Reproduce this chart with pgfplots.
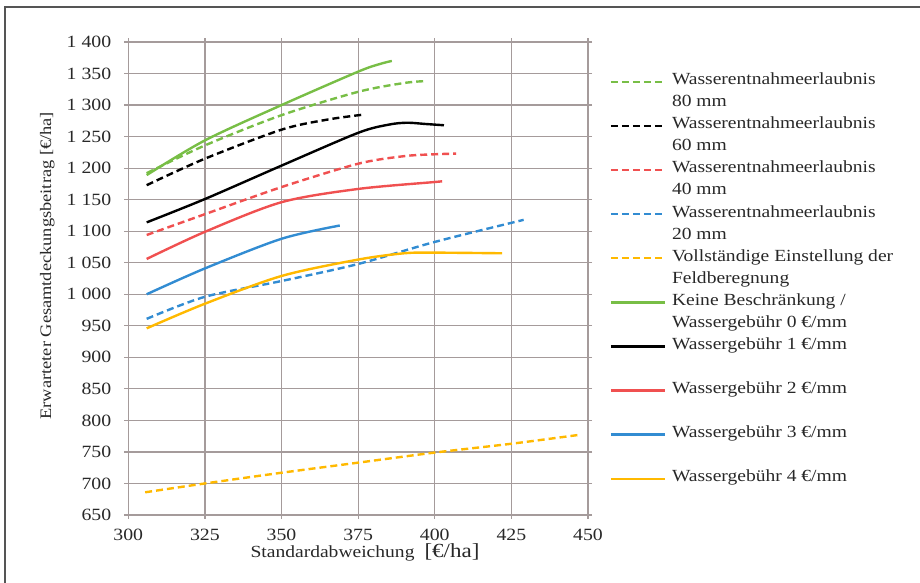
\documentclass[border=0pt]{standalone}
\usepackage{fontspec}
\setmainfont{Liberation Serif}[FakeStretch=1.15]
\usepackage{pgfplots}
\pgfplotsset{compat=1.18}
\usepackage{pgfplotstable}
\definecolor{gridc}{RGB}{165,155,155}
\definecolor{textc}{RGB}{40,40,40}
\definecolor{cgreen}{RGB}{120,190,70}
\definecolor{cred}{RGB}{240,80,80}
\definecolor{cblue}{RGB}{50,140,210}
\definecolor{corange}{RGB}{255,185,0}
\definecolor{framec}{RGB}{85,85,85}

\pgfplotstableread{
x y
306 1192
325 1236
350 1284
375 1321
390 1335
397 1338
}\gd
\pgfplotstableread{
x y
306 1173
325 1215
350 1261
365 1277
377 1285
}\bd
\pgfplotstableread{
x y
306 1094
325 1127
350 1170
375 1207
390 1219
400 1222
407 1223
}\rd
\pgfplotstableread{
x y
306 961
325 996
350 1021
375 1048
400 1083
429 1118
}\bld
\pgfplotstableread{
x y
305.5 686
325 700
350 717
375 733
400 749
425 763
447 777
}\yd
\pgfplotstableread{
x y
306 1189
325 1244
350 1300
375 1353
382 1365
386 1370
}\gs
\pgfplotstableread{
x y
306 1114
325 1151
350 1204
375 1256
385 1269
391 1272
397 1270
403 1268
}\bs
\pgfplotstableread{
x y
306 1056
325 1099
350 1146
375 1167
400 1178
402 1179
}\rs
\pgfplotstableread{
x y
306 1000
325 1041
350 1088
369 1109
}\bls
\pgfplotstableread{
x y
306 946
325 985
350 1029
375 1055
390 1065
400 1066
422 1065
}\ys

\begin{document}
\begin{tikzpicture}
\begin{axis}[
  name=ax,
  at={(0,0)}, anchor=south west,
  width=229.85pt, height=236.5pt, scale only axis,
  xmin=300, xmax=450, ymin=650, ymax=1400,
  xtick={300,325,...,450}, ytick={650,700,...,1400},
  grid=major,
  major grid style={color=gridc, line width=0.6pt},
  axis line style={gridc, line width=0.6pt},
  tick style={gridc, line width=0.6pt},
  tick align=outside, major tick length=2pt,
  /pgf/number format/assume math mode=true,
  /pgf/number format/1000 sep={\ },
  every tick label/.append style={font=\fontsize{8.6pt}{10pt}\selectfont, text=textc},
  yticklabel style={xshift=-3pt},
  xticklabel style={yshift=-1.7pt},
  xlabel={{\fontsize{8.5pt}{10pt}\selectfont Standardabweichung}\hspace{5pt}{\fontsize{10pt}{12pt}\selectfont [€/ha]}},
  xlabel style={at={(axis description cs:0.5149,-0.0909)}, anchor=base, text=textc},
  ylabel={\fontsize{8pt}{10pt}\selectfont Erwarteter Gesamtdeckungsbeitrag [€/ha]},
  ylabel style={at={(axis description cs:-0.1762,0.527)}, anchor=center, rotate=0, text=textc},
  legend image code/.code={\draw[#1] (0pt,0pt) -- (27pt,0pt);},
  legend cell align=left,
  legend style={at={(axis description cs:1,1)}, anchor=north west,
    xshift=10.8pt, yshift=-14.33pt, draw=none, fill=none,
    inner sep=0pt, outer sep=0pt, row sep=0pt, column sep=3pt,
    nodes={inner sep=0pt, text height=7pt, text depth=4.03pt,
      font=\fontsize{8.5pt}{10pt}\selectfont, text=textc, anchor=west}},
  every axis plot/.append style={line width=1.2pt, smooth},
  dsh/.style={dash pattern=on 3.5pt off 2pt},
]
\addplot[cgreen, dsh] table {\gd};
\addlegendentry{Wasserentnahmeerlaubnis}
\addlegendimage{empty legend}\addlegendentry{80 mm}
\addplot[black, dsh] table {\bd};
\addlegendentry{Wasserentnahmeerlaubnis}
\addlegendimage{empty legend}\addlegendentry{60 mm}
\addplot[cred, dsh] table {\rd};
\addlegendentry{Wasserentnahmeerlaubnis}
\addlegendimage{empty legend}\addlegendentry{40 mm}
\addplot[cblue, dsh] table {\bld};
\addlegendentry{Wasserentnahmeerlaubnis}
\addlegendimage{empty legend}\addlegendentry{20 mm}
\addplot[corange, dsh] table {\yd};
\addlegendentry{Vollständige Einstellung der}
\addlegendimage{empty legend}\addlegendentry{Feldberegnung}
\addplot[cgreen] table {\gs};
\addlegendentry{Keine Beschränkung /}
\addlegendimage{empty legend}\addlegendentry{Wassergebühr 0 €/mm}
\addplot[black] table {\bs};
\addlegendentry{Wassergebühr 1 €/mm}
\addlegendimage{empty legend}\addlegendentry{}
\addplot[cred] table {\rs};
\addlegendentry{Wassergebühr 2 €/mm}
\addlegendimage{empty legend}\addlegendentry{}
\addplot[cblue] table {\bls};
\addlegendentry{Wassergebühr 3 €/mm}
\addlegendimage{empty legend}\addlegendentry{}
\addplot[corange] table {\ys};
\addlegendentry{Wassergebühr 4 €/mm}
\end{axis}
\pgfresetboundingbox
\begin{scope}[shift={(ax.south west)}]
\path[use as bounding box] (-64.15pt,-34pt) rectangle (395.85pt,257.5pt);
\draw[framec, line width=1pt] (-61.65pt,-34pt) -- (-61.65pt,254pt) -- (395.85pt,254pt);
\end{scope}
\end{tikzpicture}
\end{document}
